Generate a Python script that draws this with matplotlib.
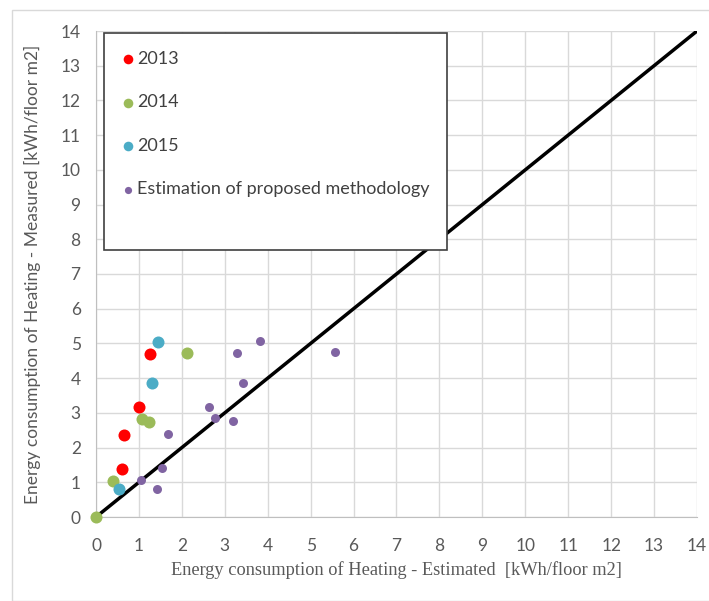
import matplotlib
matplotlib.use("Agg")
import matplotlib.pyplot as plt
from matplotlib.patches import Rectangle

x2013 = [1.26, 1.0, 0.65, 0.6]
y2013 = [4.69, 3.16, 2.36, 1.38]
x2014 = [2.12, 1.07, 1.23, 0.40, 0.0]
y2014 = [4.73, 2.82, 2.74, 1.04, 0.0]
x2015 = [1.44, 1.30, 0.54]
y2015 = [5.05, 3.86, 0.81]
xest = [3.28, 3.82, 5.57, 3.42, 2.63, 2.77, 3.19, 1.68, 1.54, 1.05, 1.42]
yest = [4.73, 5.07, 4.75, 3.86, 3.17, 2.85, 2.77, 2.39, 1.41, 1.07, 0.81]
line_x = [0, 14]
line_y = [0, 14]
ticks = list(range(0, 15))

fig = plt.figure(figsize=(7.09, 6.01), dpi=100)
fig.patches.append(Rectangle((12/709, 0), 1, 1 - 10/601, transform=fig.transFigure,
                             fill=False, edgecolor="#d9d9d9", linewidth=1))
ax = fig.add_axes([96/709, 1 - 517/601, 601/709, 486/601])

ax.plot(line_x, line_y, color="black", linewidth=2.5, zorder=2)
ax.scatter(x2013, y2013, s=75, color="#ff0000", label="2013", zorder=3, linewidths=0, clip_on=False)
ax.scatter(x2014, y2014, s=75, color="#9bbb59", label="2014", zorder=3, linewidths=0, clip_on=False)
ax.scatter(x2015, y2015, s=75, color="#4bacc6", label="2015", zorder=3, linewidths=0, clip_on=False)
ax.scatter(xest, yest, s=42, color="#8064a2", label="Estimation of proposed methodology",
           zorder=3, linewidths=0, clip_on=False)

ax.set_xlim(0, 14)
ax.set_ylim(0, 14)
ax.set_xticks(ticks)
ax.set_yticks(ticks)
ax.grid(True, color="#d9d9d9", linewidth=1)
ax.set_axisbelow(True)
for s in ["top", "right"]:
    ax.spines[s].set_visible(False)
for s in ["left", "bottom"]:
    ax.spines[s].set_color("#bfbfbf")
ax.tick_params(length=0, labelsize=12.5, labelcolor="#595959")
ax.tick_params(axis="x", pad=15)
ax.tick_params(axis="y", pad=11)
for lab in ax.get_xticklabels() + ax.get_yticklabels():
    lab.set_family("Lato")

ax.set_xlabel("Energy consumption of Heating - Estimated  [kWh/floor m2]",
              family="Liberation Serif", fontsize=13.2, color="#595959", labelpad=5)
ax.set_ylabel("Energy consumption of Heating - Measured [kWh/floor m2]",
              family="Lato", fontsize=12.5, color="#595959", labelpad=14)

frame = Rectangle((8/601, 267/486), 343/601, 217/486, transform=ax.transAxes,
                  facecolor="white", edgecolor="#404040", linewidth=1.2, zorder=4)
ax.add_patch(frame)
leg = ax.legend(loc="upper left", bbox_to_anchor=(23/601, (517-51)/486),
                frameon=False, borderaxespad=0, borderpad=0, labelspacing=1.52,
                handletextpad=0.0, handlelength=1.0,
                prop={"family": "Lato", "size": 13}, scatterpoints=1, markerscale=0.8)
leg.set_zorder(5)
for t in leg.get_texts():
    t.set_color("#404040")

fig.savefig("out.png", dpi=100)
